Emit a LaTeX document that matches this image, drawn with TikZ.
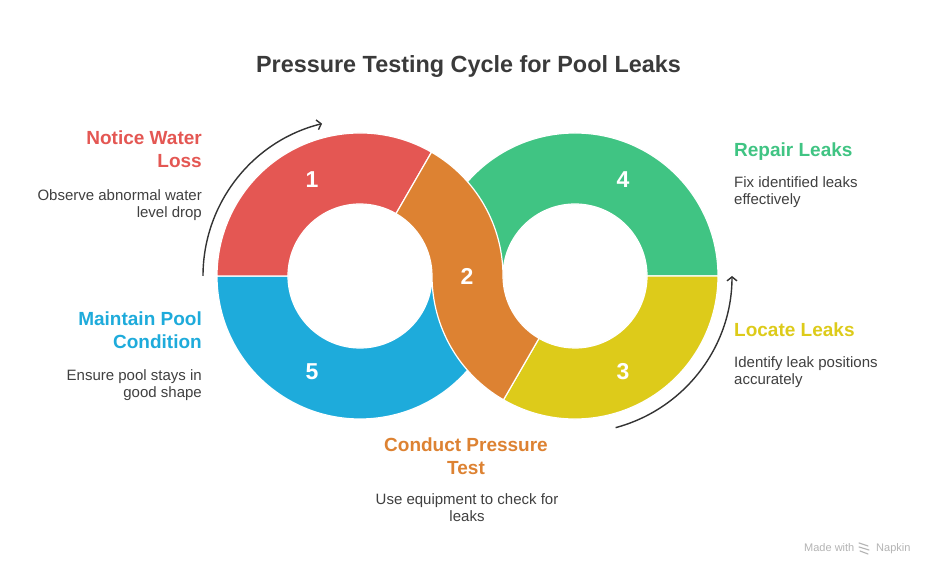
\documentclass[tikz,border=0pt]{standalone}
\usepackage{fontspec}
\setmainfont{Liberation Sans}
\usetikzlibrary{arrows.meta}

\definecolor{segred}{HTML}{E45753}
\definecolor{segorange}{HTML}{DD8232}
\definecolor{seggreen}{HTML}{40C483}
\definecolor{segyellow}{HTML}{DDCB1A}
\definecolor{segblue}{HTML}{1EABDB}
\definecolor{txtgray}{HTML}{404040}
\definecolor{titlegray}{HTML}{3A3A3A}
\definecolor{arrgray}{HTML}{333333}
\definecolor{markgray}{HTML}{B4B4B4}

\begin{document}
\begin{tikzpicture}[
  x=1pt, y=1pt,
  seg/.style={draw=white, line width=1.2pt, line join=round},
  num/.style={font=\fontsize{23}{23}\selectfont\bfseries, text=white, inner sep=0pt},
  head/.style={font=\fontsize{19}{23.5}\selectfont\bfseries, inner sep=0pt},
  desc/.style={font=\fontsize{15}{17.5}\selectfont, text=txtgray, inner sep=0pt},
  cyclearrow/.style={draw=arrgray, line width=1.4pt, -{Straight Barb[length=4pt,width=10pt]}}
]

\fill[white] (0,0) rectangle (936,577);
\useasboundingbox (0,0) rectangle (936,577);

\coordinate (lc) at (360,301);
\coordinate (rc) at (575,301);

\path[seg, fill=segblue] ([shift={(lc)}]180:143) arc[start angle=180, end angle=360, radius=143]
  -- ([shift={(lc)}]0:72) arc[start angle=360, end angle=180, radius=72] -- cycle;
\path[seg, fill=seggreen] ([shift={(rc)}]0:143) arc[start angle=0, end angle=180, radius=143]
  -- ([shift={(rc)}]180:72) arc[start angle=180, end angle=0, radius=72] -- cycle;
\path[seg, fill=segred] ([shift={(lc)}]60:143) arc[start angle=60, end angle=180, radius=143]
  -- ([shift={(lc)}]180:72) arc[start angle=180, end angle=60, radius=72] -- cycle;
\path[seg, fill=segyellow] ([shift={(rc)}]240:143) arc[start angle=240, end angle=360, radius=143]
  -- ([shift={(rc)}]0:72) arc[start angle=360, end angle=240, radius=72] -- cycle;
\path[seg, fill=segorange] ([shift={(lc)}]60:143) arc[start angle=60, end angle=0, radius=143]
  arc[start angle=180, end angle=240, radius=72]
  -- ([shift={(rc)}]240:143) arc[start angle=240, end angle=180, radius=143]
  arc[start angle=0, end angle=60, radius=72] -- cycle;

\node[num] (n1) at (312,397) {1};
\node[num] (n2) at (467,301) {2};
\node[num] (n3) at (623,205) {3};
\node[num] (n4) at (623,397) {4};
\node[num] (n5) at (312,205) {5};

\coordinate (la) at ([shift={(lc)}]180:157);
\coordinate (ra) at ([shift={(rc)}]-75:157);
\draw[cyclearrow] (la) arc[start angle=180, end angle=104, radius=157];
\draw[cyclearrow] (ra) arc[start angle=-75, end angle=0, radius=157];

\node[font=\fontsize{23.4}{28}\selectfont\bfseries, text=titlegray, inner sep=0pt, anchor=base] (title) at (468.5,504) {Pressure Testing Cycle for Pool Leaks};

\node[head, text=segred, align=right, anchor=base east] (h1) at (202,409) {Notice Water\\Loss};
\node[desc, align=right, anchor=base east] (d1) at (202,359) {Observe abnormal water\\level drop};
\node[head, text=segblue, align=right, anchor=base east] (h5) at (202,228) {Maintain Pool\\Condition};
\node[desc, align=right, anchor=base east] (d5) at (202,179) {Ensure pool stays in\\good shape};
\node[head, text=seggreen, align=left, anchor=base west] (h4) at (734,420) {Repair Leaks};
\node[desc, align=left, anchor=base west] (d4) at (734,372) {Fix identified leaks\\effectively};
\node[head, text=segyellow, align=left, anchor=base west] (h3) at (734,240) {Locate Leaks};
\node[desc, align=left, anchor=base west] (d3) at (734,192) {Identify leak positions\\accurately};
\node[head, text=segorange, align=center, anchor=base] (h2) at (466,102) {Conduct Pressure\\Test};
\node[desc, align=center, anchor=base] (d2) at (467,55) {Use equipment to check for\\leaks};

\node[font=\fontsize{11}{12}\selectfont, text=markgray, inner sep=0pt, anchor=base west] (made) at (804,25) {Made with};
\node[font=\fontsize{11}{12}\selectfont, text=markgray, inner sep=0pt, anchor=base west] (napkin) at (876,25) {Napkin};
\draw[markgray, line width=1.1pt, line cap=round] (859,34) -- (868,31) (859,30) -- (869,27) (860,26) -- (868,23);

\end{tikzpicture}
\end{document}
